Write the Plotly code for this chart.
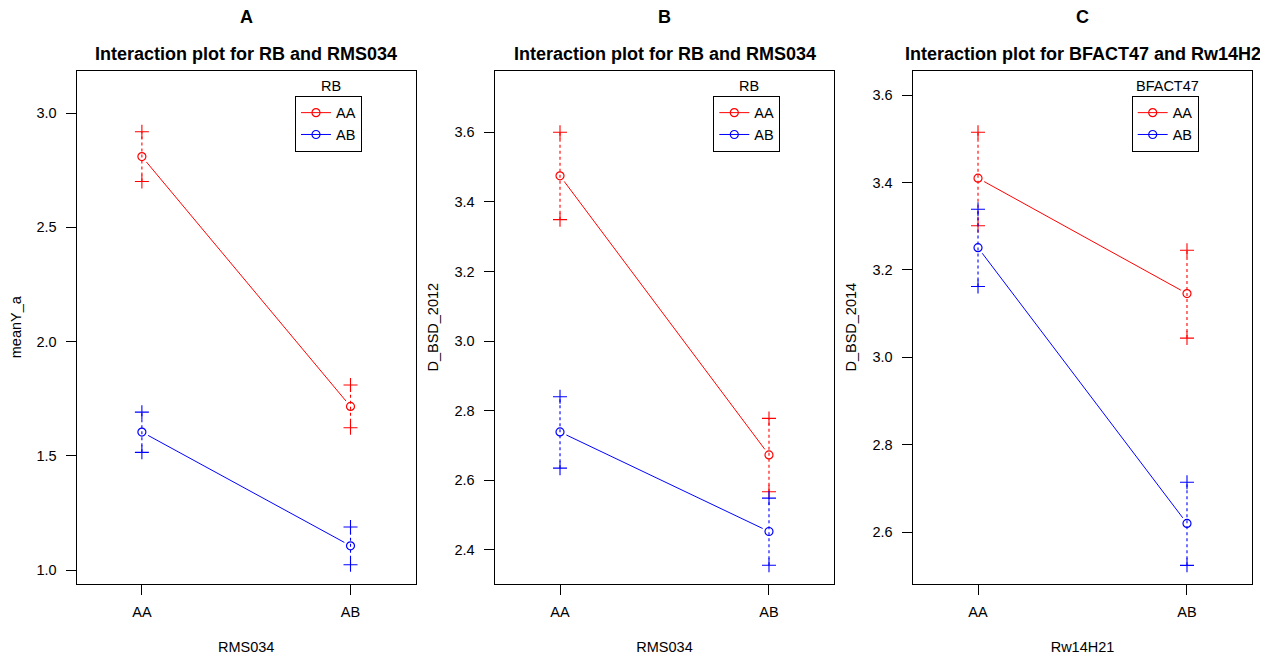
import math
import plotly.graph_objects as go

# ---------------- data ----------------
levels = ["AA", "AB"]
trace_levels = ["AA", "AB"]

panel_letters = ["A", "B", "C"]
panel_titles = ["Interaction plot for RB and RMS034",
                "Interaction plot for RB and RMS034",
                "Interaction plot for BFACT47 and Rw14H2"]
x_titles = ["RMS034", "RMS034", "Rw14H21"]
y_titles = ["meanY_a", "D_BSD_2012", "D_BSD_2014"]
legend_titles = ["RB", "RB", "BFACT47"]

# Panel A (meanY_a)
a_aa_mean = [2.810, 1.716]
a_aa_upper = [2.919, 1.810]
a_aa_lower = [2.701, 1.623]
a_ab_mean = [1.604, 1.106]
a_ab_upper = [1.691, 1.188]
a_ab_lower = [1.515, 1.023]

# Panel B (D_BSD_2012)
b_aa_mean = [3.475, 2.673]
b_aa_upper = [3.600, 2.778]
b_aa_lower = [3.349, 2.567]
b_ab_mean = [2.739, 2.453]
b_ab_upper = [2.840, 2.549]
b_ab_lower = [2.635, 2.356]

# Panel C (D_BSD_2014)
c_aa_mean = [3.410, 3.146]
c_aa_upper = [3.515, 3.245]
c_aa_lower = [3.301, 3.044]
c_ab_mean = [3.251, 2.620]
c_ab_upper = [3.339, 2.714]
c_ab_lower = [3.162, 2.524]

y_ranges = [[0.940, 3.186], [2.303, 3.777], [2.482, 3.656]]
y_dticks = [0.5, 0.2, 0.2]

# ---------------- layout geometry ----------------
OFF = 8  # page body margin in the browser
W, H = 1268 - OFF, 658 - OFF
box_left = [76.7 - OFF, 494.7 - OFF, 912.7 - OFF]
box_right = [415.7 - OFF, 834.3 - OFF, 1252.3 - OFF]
box_top, box_bottom = 70.7 - OFF, 583.7 - OFF
x_range = [0.6875, 2.3125]
colors = {"AA": "#FF0000", "AB": "#0000FF"}
FONT = "Liberation Sans, Arial, sans-serif"
TXT = 14.5

panels = [
    {"AA": (a_aa_mean, a_aa_upper, a_aa_lower), "AB": (a_ab_mean, a_ab_upper, a_ab_lower)},
    {"AA": (b_aa_mean, b_aa_upper, b_aa_lower), "AB": (b_ab_mean, b_ab_upper, b_ab_lower)},
    {"AA": (c_aa_mean, c_aa_upper, c_aa_lower), "AB": (c_ab_mean, c_ab_upper, c_ab_lower)},
]

fig = go.Figure()
xpos = [i + 1 for i in range(len(levels))]

for p, pdata in enumerate(panels):
    ax = "" if p == 0 else str(p + 1)
    xref, yref = "x" + ax, "y" + ax
    lg = "legend" if p == 0 else "legend" + str(p + 1)
    sx = (box_right[p] - box_left[p]) / (x_range[1] - x_range[0])
    sy = (box_bottom - box_top) / (y_ranges[p][1] - y_ranges[p][0])
    gap = 7.0
    for lev in trace_levels:
        mean, up, lo = pdata[lev]
        col = colors[lev]
        # connecting line with gaps around points (R type="b")
        lx, ly = [], []
        for i in range(len(xpos) - 1):
            x0, y0, x1, y1 = xpos[i], mean[i], xpos[i + 1], mean[i + 1]
            L = math.hypot((x1 - x0) * sx, (y1 - y0) * sy)
            f = gap / L
            lx += [x0 + (x1 - x0) * f, x1 - (x1 - x0) * f, None]
            ly += [y0 + (y1 - y0) * f, y1 - (y1 - y0) * f, None]
        fig.add_trace(go.Scatter(x=lx, y=ly, mode="lines", xaxis=xref, yaxis=yref,
                                 line=dict(color=col, width=1), showlegend=False,
                                 hoverinfo="skip"))
        # dotted error bars
        ex, ey = [], []
        for i, xv in enumerate(xpos):
            ex += [xv, xv, None]
            ey += [lo[i], up[i], None]
        fig.add_trace(go.Scatter(x=ex, y=ey, mode="lines", xaxis=xref, yaxis=yref,
                                 line=dict(color=col, width=1.1, dash="dot"),
                                 showlegend=False, hoverinfo="skip"))
        # crosses at upper / lower
        fig.add_trace(go.Scatter(x=xpos + xpos, y=up + lo, mode="markers",
                                 xaxis=xref, yaxis=yref,
                                 marker=dict(symbol="cross-thin", size=10, color=col,
                                             line=dict(color=col, width=1.1)),
                                 showlegend=False))
        # mean circles
        fig.add_trace(go.Scatter(x=xpos, y=mean, mode="markers", xaxis=xref, yaxis=yref,
                                 marker=dict(symbol="circle-open", size=8, color=col,
                                             line=dict(color=col, width=1.2)),
                                 showlegend=False))
        # legend entry
        fig.add_trace(go.Scatter(x=[None], y=[None], mode="lines+markers", name=lev,
                                 xaxis=xref, yaxis=yref, legend=lg,
                                 line=dict(color=col, width=1),
                                 marker=dict(symbol="circle-open", size=8, color=col,
                                             line=dict(color=col, width=1.2))))

layout = dict(
    width=W, height=H, margin=dict(l=0, r=0, t=0, b=0, autoexpand=False),
    paper_bgcolor="white", plot_bgcolor="white",
    font=dict(family=FONT, size=TXT, color="black"),
    showlegend=True,
)

annotations = []
for p in range(3):
    ax = "" if p == 0 else str(p + 1)
    d0 = box_left[p] / W
    d1 = box_right[p] / W
    common_axis = dict(showline=True, mirror=True, linecolor="black", linewidth=1.3,
                       ticks="outside", ticklen=10, tickcolor="black", tickwidth=1,
                       showgrid=False, zeroline=False, automargin=False,
                       tickfont=dict(family=FONT, size=TXT, color="black"))
    layout["xaxis" + ax] = dict(
        common_axis, domain=[d0, d1], range=x_range,
        tickmode="array", tickvals=xpos, ticktext=levels,
        anchor="y" + ax, ticklabelstandoff=5,
        title=dict(text=x_titles[p], standoff=22, font=dict(family=FONT, size=TXT)))
    layout["yaxis" + ax] = dict(
        common_axis, domain=[1 - box_bottom / H, 1 - box_top / H], range=y_ranges[p],
        dtick=y_dticks[p], tick0=0, tickformat=".1f", anchor="x" + ax,
        ticklabelstandoff=6,
        title=dict(text=y_titles[p], standoff=12, font=dict(family=FONT, size=TXT)))
    cx = (box_left[p] + box_right[p]) / 2 / W
    annotations.append(dict(text="<b>%s</b>" % panel_letters[p], x=cx, y=1 - (17.5 - OFF) / H,
                            xref="paper", yref="paper", showarrow=False,
                            xanchor="center", yanchor="middle",
                            font=dict(family=FONT, size=18, color="black")))
    annotations.append(dict(text="<b>%s</b>" % panel_titles[p], x=cx, y=1 - (53.5 - OFF) / H,
                            xref="paper", yref="paper", showarrow=False,
                            xanchor="center", yanchor="middle",
                            font=dict(family=FONT, size=18, color="black")))

leg_left = [295 - OFF, 713.3 - OFF, 1131.7 - OFF]
leg_right = [366.7 - OFF, 785 - OFF, 1203.3 - OFF]
for p in range(3):
    key = "legend" if p == 0 else "legend" + str(p + 1)
    layout[key] = dict(x=leg_left[p] / W, y=1 - (95.7 - OFF) / H, xanchor="left", yanchor="top",
                       bordercolor="black", borderwidth=1, bgcolor="white",
                       font=dict(family=FONT, size=TXT, color="black"),
                       itemwidth=30, tracegroupgap=0)
    annotations.append(dict(text=legend_titles[p],
                            x=(leg_left[p] + leg_right[p]) / 2 / W, y=1 - (86 - OFF) / H,
                            xref="paper", yref="paper", showarrow=False,
                            xanchor="center", yanchor="middle",
                            font=dict(family=FONT, size=TXT, color="black")))

layout["annotations"] = annotations
fig.update_layout(**layout)
fig.write_html("out.html")
